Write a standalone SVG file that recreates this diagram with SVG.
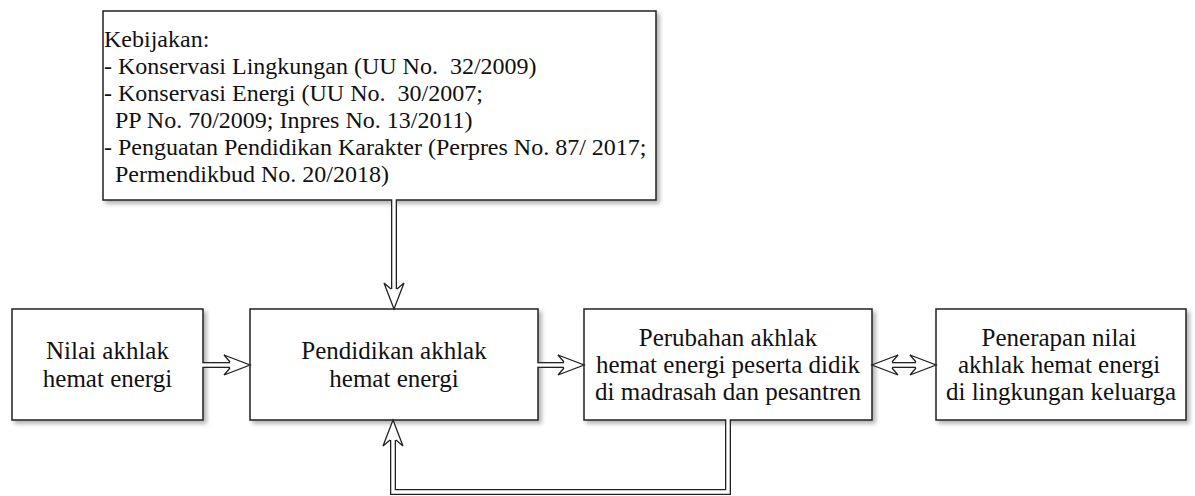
<svg xmlns="http://www.w3.org/2000/svg" xmlns:xlink="http://www.w3.org/1999/xlink" width="1195" height="496" viewBox="0 0 1195 496">
<style>
.box{fill:#fff;stroke:#222;stroke-width:1.5;filter:url(#sh)}
text{font-family:'Liberation Serif','DejaVu Serif',serif;font-size:24px;fill:#111}
.c{text-anchor:middle;font-size:25px}
.lo{fill:none;stroke:#222;stroke-width:6;stroke-linejoin:miter}
.li{fill:none;stroke:#fff;stroke-width:3.4;stroke-linejoin:miter}
.hd{fill:#fff;stroke:#222;stroke-width:1.3;stroke-linejoin:miter}
</style>
<defs>
<filter id="sh" x="-10%" y="-10%" width="120%" height="130%">
<feDropShadow dx="3" dy="3" stdDeviation="2" flood-color="#000" flood-opacity="0.3"/>
</filter>
<path id="head" class="hd" d="M-20,-3 L-26,-10 L0,0 L-26,10 L-20,3"/>
</defs>
<rect width="1195" height="496" fill="#fff"/>
<g id="kebijakan">
<rect class="box" x="103" y="11" width="553" height="189"/>
<text x="104" y="47">Kebijakan:</text>
<text x="104" y="74" xml:space="preserve">- Konservasi Lingkungan (UU No.  32/2009)</text>
<text x="104" y="101" xml:space="preserve">- Konservasi Energi (UU No.  30/2007;</text>
<text x="115" y="128">PP No. 70/2009; Inpres No. 13/2011)</text>
<text x="104" y="155">- Penguatan Pendidikan Karakter (Perpres No. 87/ 2017;</text>
<text x="115" y="182">Permendikbud No. 20/2018)</text>
</g>
<g id="nilai">
<rect class="box" x="12" y="309" width="191" height="111"/>
<text class="c" x="107.5" y="359">Nilai akhlak</text>
<text class="c" x="107.5" y="387">hemat energi</text>
</g>
<g id="pendidikan">
<rect class="box" x="250" y="309" width="288" height="111"/>
<text class="c" x="394" y="359">Pendidikan akhlak</text>
<text class="c" x="394" y="387">hemat energi</text>
</g>
<g id="perubahan">
<rect class="box" x="584" y="309" width="288" height="111"/>
<text class="c" x="728" y="346">Perubahan akhlak</text>
<text class="c" x="728" y="373">hemat energi peserta didik</text>
<text class="c" x="728" y="400">di madrasah dan pesantren</text>
</g>
<g id="penerapan">
<rect class="box" x="936" y="309" width="250" height="111"/>
<text class="c" x="1059" y="346">Penerapan nilai</text>
<text class="c" x="1059" y="373">akhlak hemat energi</text>
<text class="c" x="1061" y="400">di lingkungan keluarga</text>
</g>
<g id="connectors">
<path class="lo" d="M394,200 V289"/>
<path class="li" d="M394,199 V290"/>
<use xlink:href="#head" transform="translate(394,309) rotate(90)"/>
<path class="lo" d="M203,365 H230"/>
<path class="li" d="M202,365 H231"/>
<use xlink:href="#head" transform="translate(250,365)"/>
<path class="lo" d="M538,365 H564"/>
<path class="li" d="M537,365 H565"/>
<use xlink:href="#head" transform="translate(584,365)"/>
<path class="lo" d="M892,365 H916"/>
<path class="li" d="M891,365 H917"/>
<use xlink:href="#head" transform="translate(936,365)"/>
<use xlink:href="#head" transform="translate(872,365) rotate(180)"/>
<path class="lo" d="M728,420 V492 H393 V440"/>
<path class="li" d="M728,419 V492 H393 V439"/>
<use xlink:href="#head" transform="translate(393,420) rotate(-90)"/>
</g>
</svg>
